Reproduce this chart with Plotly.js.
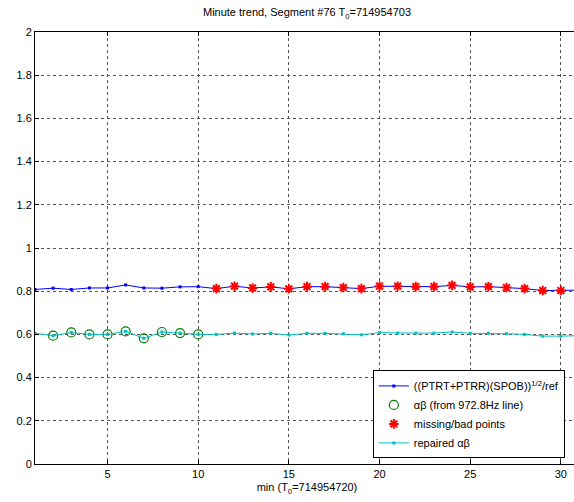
<!DOCTYPE html>
<html>
<head>
<meta charset="utf-8">
<script src="https://cdn.plot.ly/plotly-3.0.1.min.js"></script>
<style>
html, body { margin: 0; padding: 0; overflow: hidden; background: #fff; }
#chart { width: 580px; height: 502px; }
</style>
</head>
<body>
<div id="chart"></div>
<script>
// minutes since T0
const minutes = [1,2,3,4,5,6,7,8,9,10,11,12,13,14,15,16,17,18,19,20,21,22,23,24,25,26,27,28,29,30,31];
// ((PTRT+PTRR)(SPOB))^1/2 / ref
const ratio = [0.808,0.814,0.808,0.815,0.815,0.829,0.815,0.814,0.820,0.821,
               0.812,0.823,0.815,0.820,0.811,0.821,0.821,0.817,0.812,0.823,
               0.823,0.821,0.821,0.827,0.820,0.821,0.817,0.812,0.803,0.803,0.805];
// alpha-beta from 972.8 Hz line (valid minutes)
const abMinutes = [2,3,4,5,6,7,8,9,10];
const abValues = [0.594,0.609,0.600,0.600,0.614,0.582,0.611,0.606,0.600];
// missing / bad points
const badMinutes = [11,12,13,14,15,16,17,18,19,20,21,22,23,24,25,26,27,28,29,30];
const badValues = [0.812,0.823,0.815,0.820,0.811,0.821,0.821,0.817,0.812,0.823,
                   0.823,0.821,0.821,0.827,0.820,0.821,0.817,0.812,0.803,0.803];
// repaired alpha-beta
const repaired = [0.605,0.594,0.609,0.600,0.600,0.614,0.582,0.611,0.606,0.600,
                  0.600,0.606,0.602,0.605,0.597,0.605,0.605,0.603,0.598,0.608,
                  0.606,0.606,0.606,0.611,0.605,0.605,0.603,0.600,0.592,0.592,0.594];
const xTicks = [5,10,15,20,25,30];
const yTicks = [0,0.2,0.4,0.6,0.8,1,1.2,1.4,1.6,1.8,2];

const FONT = 'Liberation Sans, Arial, Helvetica, sans-serif';

const traces = [
  {
    x: minutes, y: ratio, type: 'scatter', mode: 'lines+markers',
    name: '((PTRT+PTRR)(SPOB))<sup>1/2</sup>/ref',
    line: {color: '#0000ff', width: 1},
    marker: {color: '#0000ff', size: 3, symbol: 'square'}
  },
  {
    x: abMinutes, y: abValues, type: 'scatter', mode: 'markers',
    name: 'αβ (from 972.8Hz line)',
    marker: {symbol: 'circle-open', size: 9, color: '#008000', line: {width: 1.2, color: '#008000'}}
  },
  {
    x: badMinutes, y: badValues, type: 'scatter', mode: 'markers',
    name: 'missing/bad points',
    marker: {symbol: 'asterisk-open', size: 8, color: '#ff0000', line: {width: 2, color: '#ff0000'}}
  },
  {
    x: minutes, y: repaired, type: 'scatter', mode: 'lines+markers',
    name: 'repaired αβ',
    line: {color: '#00bfbf', width: 1},
    marker: {color: '#00bfbf', size: 3, symbol: 'square'}
  }
];

const axisCommon = {
  showline: true, linecolor: '#000', linewidth: 1, mirror: 'ticks',
  ticks: 'inside', ticklen: 4, tickcolor: '#000', tickwidth: 1,
  showgrid: true, gridcolor: '#555', griddash: 'dot', gridwidth: 1,
  zeroline: false,
  tickfont: {family: FONT, size: 11, color: '#000'}
};

const layout = {
  width: 580, height: 502,
  margin: {l: 35, r: 1, t: 32, b: 38, pad: 0},
  paper_bgcolor: '#fff', plot_bgcolor: '#fff',
  font: {family: FONT, size: 11, color: '#000'},
  title: {
    text: 'Minute trend, Segment #76 T<sub>0</sub>=714954703',
    font: {family: FONT, size: 11, color: '#000'},
    x: 0.5, xref: 'paper', xanchor: 'center', y: 0.975, yref: 'container', yanchor: 'middle'
  },
  xaxis: Object.assign({}, axisCommon, {
    range: [1, 31], tickvals: xTicks, ticktext: xTicks.map(String),
    title: {text: 'min (T<sub>0</sub>=714954720)', font: {family: FONT, size: 11, color: '#000'}, standoff: 4}
  }),
  yaxis: Object.assign({}, axisCommon, {
    range: [0, 2], tickvals: yTicks, ticktext: yTicks.map(String)
  }),
  showlegend: true,
  legend: {
    x: 0.621, xanchor: 'left', y: 0.013, yanchor: 'bottom',
    bgcolor: '#fff', bordercolor: '#000', borderwidth: 1,
    font: {family: FONT, size: 11, color: '#000'},
    tracegroupgap: 0, itemwidth: 30
  }
};

Plotly.newPlot('chart', traces, layout, {staticPlot: true, displayModeBar: false});
</script>
</body>
</html>
